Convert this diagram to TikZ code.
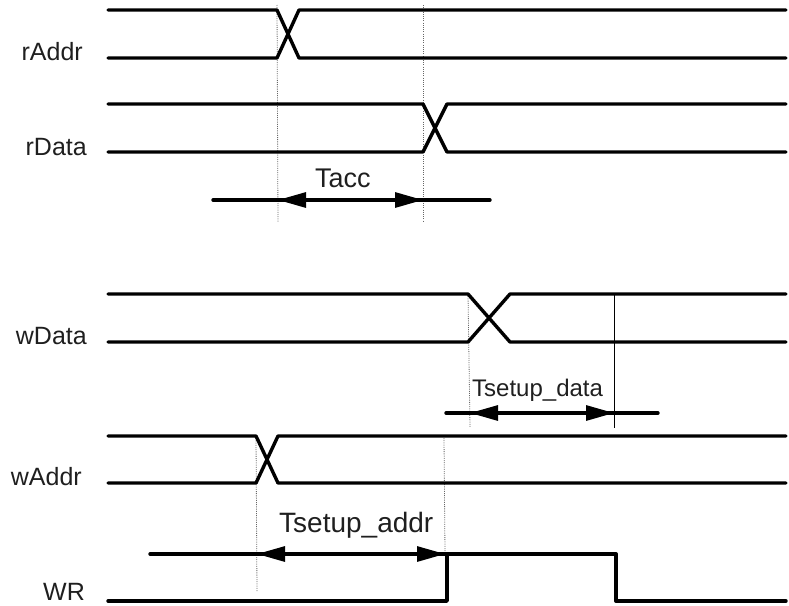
\documentclass[tikz,border=0pt]{standalone}
\usepackage{fontspec}
\setmainfont{Liberation Sans}
\usetikzlibrary{arrows.meta}
\begin{document}
\begin{tikzpicture}[x=1pt,y=-1pt,
  sig/.style={line width=3.4pt,line cap=round,line join=round,black},
  guide/.style={line width=0.8pt,black!60,dash pattern=on 1pt off 1.2pt},
  marker/.style={line width=0.9pt,black},
  dimline/.style={line width=3.4pt,line cap=round,black},
  dimtips/.style={line width=3pt,{Triangle[length=28pt,width=15pt]}-{Triangle[length=28pt,width=15pt]}},
  lbl/.style={anchor=base east,inner sep=0pt,text=black!88,font=\fontsize{25}{30}\selectfont},
  tlbl/.style={anchor=base west,inner sep=0pt,text=black!88}]
\useasboundingbox (0,0) rectangle (789,605);

% guides
\coordinate (g1a) at (277,5);   \coordinate (g1b) at (278,222);
\coordinate (g2a) at (423,5);   \coordinate (g2b) at (423,222);
\coordinate (g3a) at (468,294); \coordinate (g3b) at (470,427);
\coordinate (g4a) at (614,294); \coordinate (g4b) at (614,428);
\coordinate (g5a) at (256,436); \coordinate (g5b) at (257,592);
\coordinate (g6a) at (444,438); \coordinate (g6b) at (445,553);
\draw[guide] (g1a) -- (g1b);
\draw[guide] (g2a) -- (g2b);
\draw[guide] (g3a) -- (g3b);
\draw[marker] (g4a) -- (g4b);
\draw[guide] (g5a) -- (g5b);
\draw[guide] (g6a) -- (g6b);

% rAddr
\draw[sig] (108,10) -- (277,10) -- (299,58) -- (786,58);
\draw[sig] (108,58) -- (277,58) -- (299,10) -- (786,10);
\node[lbl] (rAddr) at (83,60) {rAddr};
% rData
\draw[sig] (108,104) -- (423,104) -- (447,152) -- (786,152);
\draw[sig] (108,152) -- (423,152) -- (447,104) -- (786,104);
\node[lbl] (rData) at (87,155) {rData};
% wData
\draw[sig] (108,294) -- (468,294) -- (510,342) -- (786,342);
\draw[sig] (108,342) -- (468,342) -- (510,294) -- (786,294);
\node[lbl] (wData) at (87,344) {wData};
% wAddr
\draw[sig] (108,436) -- (256,436) -- (278,483) -- (786,483);
\draw[sig] (108,483) -- (256,483) -- (278,436) -- (786,436);
\node[lbl] (wAddr) at (82,485) {wAddr};
% WR
\draw[sig] (108,601) -- (447,601) -- (447,554) -- (616,554) -- (616,601) -- (786,601);
\node[lbl] (WR) at (85,600) {WR};

% Tacc
\coordinate (ta1) at (213,200); \coordinate (ta2) at (490,200);
\draw[dimline] (ta1) -- (ta2);
\draw[dimtips] (g1b |- ta1) -- (g2b |- ta1);
\node[tlbl,font=\fontsize{27}{32}\selectfont] (tacc) at (315,187) {Tacc};

% Tsetup_data
\coordinate (td1) at (446,413); \coordinate (td2) at (658,413);
\draw[dimline] (td1) -- (td2);
\draw[dimtips] (470,413) -- (g4b |- td1);
\node[tlbl,font=\fontsize{24}{29}\selectfont] (tsd) at (472,396) {Tsetup\_data};

% Tsetup_addr
\coordinate (tw1) at (150,554); \coordinate (tw2) at (553,554);
\draw[dimline] (tw1) -- (tw2);
\draw[dimtips] (257,554) -- (445,554);
\node[tlbl,font=\fontsize{28}{33}\selectfont] (tsa) at (279,532) {Tsetup\_addr};
\end{tikzpicture}
\end{document}
